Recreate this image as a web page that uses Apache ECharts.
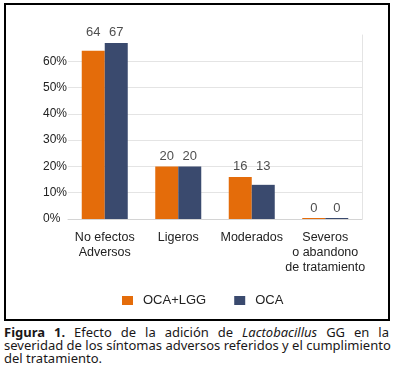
<!DOCTYPE html>
<html>
<head>
<meta charset="utf-8">
<script src="https://cdn.jsdelivr.net/npm/echarts@6/dist/echarts.min.js"></script>
<style>
    body{
        margin: 0;
        width: 394px;
        height: 373px;
        background: #fff;
        position: relative;
        overflow: hidden;
    }
    .frame{
        position: absolute;
        left: 4px;
        top: 3px;
        width: 386px;
        height: 318px;
        border: solid 2px #000;
        box-sizing: border-box;
    }
    #main{
        position: absolute;
        left: 0;
        top: 0;
        width: 394px;
        height: 322px;
    }
    .caption{
        position: absolute;
        left: 4px;
        top: 326px;
        width: 385px;
        font-family: "Noto Sans", sans-serif;
        font-size: 13px;
        line-height: 13px;
        color: #1a1718;
    }
    .caption .line{
        text-align: justify;
        text-align-last: justify;
        white-space: nowrap;
    }
    .caption .last{
        text-align-last: left;
    }
</style>
</head>
<body>
<div class="frame"></div>
<div id="main"></div>
<div class="caption">
    <div class="line"><b>Figura 1.</b> Efecto de la adición de <i>Lactobacillus</i> GG en la</div>
    <div class="line">severidad de los síntomas adversos referidos y el cumplimiento</div>
    <div class="line last">del tratamiento.</div>
</div>
<script>
    // datos
    const categories = ['No efectos\nAdversos', 'Ligeros', 'Moderados', 'Severos\no abandono\nde tratamiento'];
    const seriesNames = ['OCA+LGG', 'OCA'];
    const ocaLgg = [64, 20, 16, 0];
    const oca = [67, 20, 13, 0];

    const orange = '#e46c0a';
    const blue = '#3a4a6e';
    const font = '"Liberation Sans", Arial, sans-serif';

    // las etiquetas de cada grupo van a la misma altura (sobre la barra más alta)
    const groupTop = categories.map((c, i) => Math.max(ocaLgg[i], oca[i]));

    function labelSeries(values, dx){
        return {
            type: 'scatter',
            data: groupTop,
            symbolSize: 0,
            silent: true,
            label: {
                show: true,
                position: 'top',
                distance: 4,
                offset: [dx, 0],
                color: '#222',
                fontSize: 13,
                fontFamily: font,
                formatter: p => values[p.dataIndex]
            }
        };
    }

    let myChart = echarts.init(document.getElementById('main'));
    myChart.setOption({
        animation: false,
        grid: {
            left: 68,
            right: 32,
            top: 35,
            bottom: 103
        },
        legend: {
            data: seriesNames,
            left: 117,
            top: 289,
            icon: 'rect',
            itemWidth: 11,
            itemHeight: 9,
            itemGap: 28,
            textStyle: {
                color: '#222',
                fontSize: 13,
                fontFamily: font,
                padding: [0, 0, 0, 5]
            }
        },
        xAxis: {
            type: 'category',
            data: categories,
            axisTick: {show: false},
            axisLine: {lineStyle: {color: '#d4d4d4'}},
            axisLabel: {
                interval: 0,
                margin: 11,
                color: '#222',
                fontSize: 12.5,
                lineHeight: 15,
                fontFamily: font
            }
        },
        yAxis: [
            {
                type: 'value',
                min: 0,
                max: 70,
                interval: 10,
                axisLabel: {
                    formatter: '{value}%',
                    showMaxLabel: false,
                    align: 'left',
                    margin: 25,
                    color: '#222',
                    fontSize: 12,
                    fontFamily: font
                },
                splitLine: {
                    showMaxLine: false,
                    lineStyle: {color: '#e4e4e4'}
                }
            },
            {
                type: 'value',
                position: 'right',
                min: 0,
                max: 70,
                interval: 10,
                axisLine: {show: true, lineStyle: {color: '#e4e4e4'}},
                axisLabel: {show: false},
                splitLine: {show: false}
            }
        ],
        series: [
            {
                name: seriesNames[0],
                type: 'bar',
                data: ocaLgg,
                barWidth: 23,
                barGap: '0%',
                barMinHeight: 1,
                itemStyle: {color: orange}
            },
            {
                name: seriesNames[1],
                type: 'bar',
                data: oca,
                barWidth: 23,
                barGap: '0%',
                barMinHeight: 1,
                itemStyle: {color: blue}
            },
            labelSeries(ocaLgg, -11.5),
            labelSeries(oca, 11.5)
        ]
    });
</script>
</body>
</html>
